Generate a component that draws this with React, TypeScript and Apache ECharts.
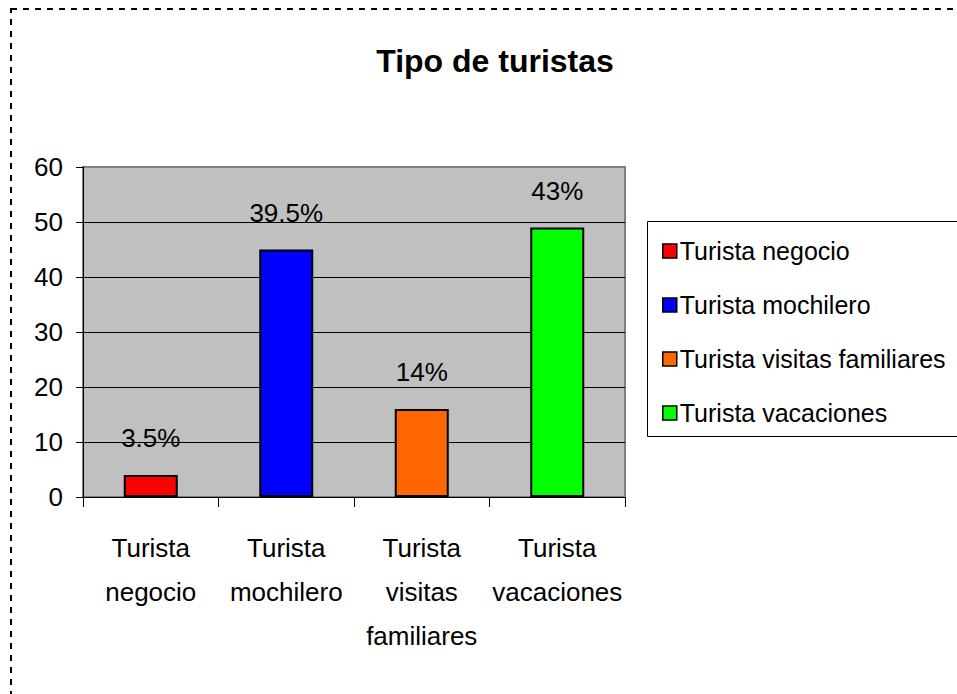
import React, { useEffect, useRef } from "react";
import * as echarts from "echarts";

const categories = [
  "Turista negocio",
  "Turista mochilero",
  "Turista visitas familiares",
  "Turista vacaciones",
];
const values = [4, 45, 16, 49];
const percentLabels = ["3.5%", "39.5%", "14%", "43%"];
const colors = ["#FF0000", "#0000FF", "#FF6600", "#00FF00"];
const yTicks = [0, 10, 20, 30, 40, 50, 60];

const FONT = "'Liberation Sans', Arial, sans-serif";

export default function App() {
  const ref = useRef<HTMLDivElement>(null);
  useEffect(() => {
    if (!ref.current) return;
    const chart = echarts.init(ref.current, undefined, { renderer: "svg" });
    const series = categories.map((name, i) => ({
      name,
      type: "bar",
      barWidth: 54,
      barGap: "-100%",
      data: values.map((v, j) => (j === i ? v : null)),
      itemStyle: { color: colors[i], borderColor: "#000", borderWidth: 2 },
      label: {
        show: true,
        position: "top",
        distance: 24,
        formatter: () => percentLabels[i],
        fontFamily: FONT,
        fontSize: 26,
        color: "#000",
      },
    }));
    chart.setOption({
      animation: false,
      backgroundColor: "#fff",
      title: {
        text: "Tipo de turistas",
        left: 490,
        textAlign: "center",
        top: 40,
        textStyle: { fontFamily: FONT, fontSize: 32, fontWeight: "bold", color: "#000" },
      },
      grid: {
        left: 83,
        top: 167,
        width: 542,
        height: 330,
        show: true,
        backgroundColor: "#C0C0C0",
        borderColor: "#808080",
        borderWidth: 2,
      },
      legend: {
        orient: "vertical",
        left: 657,
        top: 231,
        itemWidth: 14,
        itemHeight: 14,
        itemGap: 24,
        icon: "rect",
        itemStyle: { borderColor: "#000", borderWidth: 1.5 },
        textStyle: { fontFamily: FONT, fontSize: 25, lineHeight: 30, color: "#000", padding: [0, 0, 0, -2] },
        data: categories,
      },
      graphic: [
        {
          type: "rect",
          shape: { x: 647.5, y: 221.5, width: 330, height: 215 },
          style: { fill: "none", stroke: "#000", lineWidth: 1 },
          silent: true,
        },
        {
          type: "rect",
          shape: { x: 11, y: 9, width: 980, height: 720 },
          style: { fill: "none", stroke: "#000", lineWidth: 2, lineDash: [6, 6] },
          silent: true,
        },
      ],
      xAxis: {
        type: "category",
        data: categories,
        axisLine: { lineStyle: { color: "#000", width: 1 } },
        axisTick: { show: true, length: 10, lineStyle: { color: "#000" } },
        axisLabel: {
          margin: 29,
          fontFamily: FONT,
          fontSize: 26,
          lineHeight: 44,
          color: "#000",
          interval: 0,
          formatter: (v: string) => v.split(" ").join("\n"),
        },
      },
      yAxis: {
        type: "value",
        min: yTicks[0],
        max: yTicks[yTicks.length - 1],
        interval: 10,
        axisLine: { show: true, lineStyle: { color: "#000", width: 1 } },
        axisTick: { show: true, length: 7, lineStyle: { color: "#000" } },
        axisLabel: { margin: 20, fontFamily: FONT, fontSize: 26, color: "#000" },
        splitLine: { show: true, showMaxLine: false, lineStyle: { color: "#000", width: 1 } },
      },
      series,
    });
    return () => chart.dispose();
  }, []);
  return (
    <div
      ref={ref}
      style={{ position: "fixed", left: 0, top: 0, width: 957, height: 694 }}
    />
  );
}
